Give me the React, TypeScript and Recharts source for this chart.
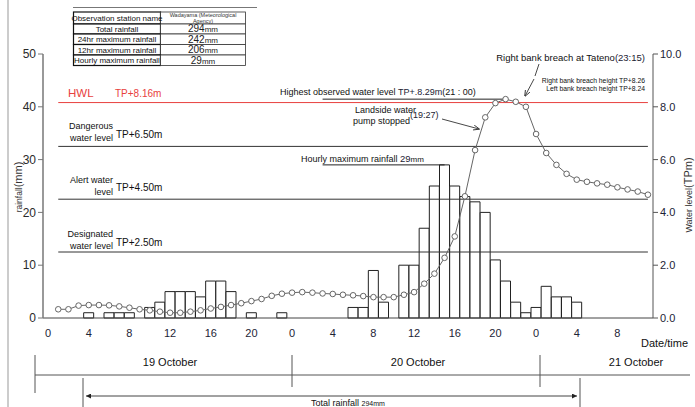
import { ComposedChart, Bar, Line, XAxis, YAxis, ReferenceLine } from "recharts"

// hours since 0:00 on 19 October
const hours = [
  0, 1, 2, 3, 4, 5, 6, 7, 8, 9, 10, 11, 12, 13, 14, 15, 16, 17, 18, 19, 20, 21, 22, 23,
  24, 25, 26, 27, 28, 29, 30, 31, 32, 33, 34, 35, 36, 37, 38, 39, 40, 41, 42, 43, 44, 45, 46, 47,
  48, 49, 50, 51, 52, 53, 54, 55, 56, 57, 58, 59
]

// hourly rainfall (mm)
const rainfall = [
  0, 0, 0, 0, 1, 0, 1, 1, 1, 0, 2, 3, 5, 5, 5, 4, 7, 7, 5, 0, 1, 0, 0, 1,
  0, 0, 0, 0, 0, 0, 2, 2, 9, 3, 0, 10, 10, 17, 25, 29, 25, 23, 22, 20, 11, 7, 3, 1,
  2, 6, 4, 4, 3, 0, 0, 0, 0, 0, 0, 0
]

// water level (TP m)
const waterLevel = [
  null, 0.33, 0.33, 0.47, 0.49, 0.49, 0.48, 0.44, 0.39, 0.33, 0.29, 0.24, 0.2, 0.2, 0.24, 0.29,
  0.36, 0.42, 0.49, 0.56, 0.64, 0.72, 0.84, 0.92, 0.96, 0.98, 0.96, 0.93, 0.91, 0.88, 0.86, 0.83,
  0.79, 0.79, 0.79, 0.88, 0.98, 1.3, 1.68, 2.28, 3.09, 4.61, 6.36, 7.6, 8.14, 8.29, 8.19, 8.0,
  6.97, 6.25, 5.8, 5.46, 5.24, 5.16, 5.1, 5.05, 4.95, 4.87, 4.79, 4.67
]

const levelLines = [
  { key: "hwl", value: 8.16, color: "#e8413e" },
  { key: "danger", value: 6.5, color: "#333" },
  { key: "alert", value: 4.5, color: "#333" },
  { key: "designated", value: 2.5, color: "#333" }
]

const summaryRows = [
  { label: "Total rainfall", value: "294" },
  { label: "24hr maximum rainfall", value: "242" },
  { label: "12hr maximum rainfall", value: "206" },
  { label: "Hourly maximum rainfall", value: "29" }
]

const days = ["19 October", "20 October", "21 October"]

const W = 695
const H = 407
const FONT = "'Liberation Sans', Arial, sans-serif"

function Overlay() {
  const rowY = [24, 34, 44.5, 55, 65.5]
  return (
    <svg
      width={W}
      height={H}
      style={{ position: "absolute", left: 0, top: 0, pointerEvents: "none" }}
      fontFamily={FONT}
    >
      <defs>
        <marker id="arr" viewBox="0 0 10 10" refX="9" refY="5" markerWidth="7" markerHeight="7" orient="auto">
          <path d="M0,1 L10,5 L0,9" fill="none" stroke="#333" strokeWidth="1.4" />
        </marker>
        <marker id="tri" viewBox="0 0 10 10" refX="10" refY="5" markerWidth="5" markerHeight="5" orient="auto-start-reverse">
          <path d="M0,0 L10,5 L0,10 z" fill="#222" />
        </marker>
      </defs>

      {/* frame */}
      <line x1={8} y1={0} x2={8} y2={H} stroke="#999" />
      <line x1={73} y1={7.5} x2={257} y2={7.5} stroke="#777" />

      {/* summary table */}
      <rect x={73.5} y={12} width={87} height={12} fill="#fff" stroke="#111" strokeWidth={1.2} />
      <rect x={160.5} y={12} width={85} height={12} fill="#fff" stroke="#333" strokeWidth={0.8} />
      <text x={117} y={21} fontSize={8} textAnchor="middle" fill="#111">Observation station name</text>
      <text x={203} y={17} fontSize={5.5} textAnchor="middle" fill="#333">Wadayama (Meteorological</text>
      <text x={203} y={22.5} fontSize={5.5} textAnchor="middle" fill="#333">Agency)</text>
      {summaryRows.map((r, i) => (
        <g key={r.label}>
          <rect x={73.5} y={rowY[i]} width={87} height={rowY[i + 1] - rowY[i]} fill="#fff" stroke="#111" strokeWidth={1.2} />
          <rect x={160.5} y={rowY[i]} width={85} height={rowY[i + 1] - rowY[i]} fill="#fff" stroke="#333" strokeWidth={0.8} />
          <text x={117} y={rowY[i + 1] - 2.5} fontSize={8} textAnchor="middle" fill="#111">{r.label}</text>
          <text x={203} y={rowY[i + 1] - 2} textAnchor="middle" fill="#222">
            <tspan fontSize={10}>{r.value}</tspan>
            <tspan fontSize={8}>mm</tspan>
          </text>
        </g>
      ))}

      {/* level labels */}
      <text x={68} y={97} fontSize={11.5} fill="#e8413e">HWL</text>
      <text x={115} y={97} fontSize={10} fill="#e8413e">TP+8.16m</text>

      <text x={113} y={129} fontSize={9} textAnchor="end" fill="#111">Dangerous</text>
      <text x={113} y={140.5} fontSize={9} textAnchor="end" fill="#111">water level</text>
      <text x={116} y={138} fontSize={10} fill="#111">TP+6.50m</text>

      <text x={113} y={183} fontSize={9} textAnchor="end" fill="#111">Alert water</text>
      <text x={113} y={194.5} fontSize={9} textAnchor="end" fill="#111">level</text>
      <text x={116} y={191} fontSize={10} fill="#111">TP+4.50m</text>

      <text x={113} y={237} fontSize={9} textAnchor="end" fill="#111">Designated</text>
      <text x={113} y={248.5} fontSize={9} textAnchor="end" fill="#111">water level</text>
      <text x={116} y={246} fontSize={10} fill="#111">TP+2.50m</text>

      {/* event annotations */}
      <text x={301} y={161.5} fontSize={9} fill="#111">
        Hourly maximum rainfall <tspan fontSize={9.5} fill="#223">29</tspan><tspan fontSize={8}>mm</tspan>
      </text>

      <text x={280} y={95} fontSize={9} fill="#111">
        Highest observed water level  <tspan fill="#223">TP+.8.29m</tspan><tspan fontSize={9}>(21 : 00)</tspan>
      </text>

      <text x={416} y={112.5} fontSize={9} textAnchor="end" fill="#111">Landside water</text>
      <text x={410} y={124} fontSize={9} textAnchor="end" fill="#111">pump stopped</text>
      <text x={410} y={118} fontSize={9} fill="#223">(19:27)</text>
      <line x1={442} y1={119} x2={479} y2={129} stroke="#333" strokeWidth={0.9} markerEnd="url(#arr)" />

      <text x={645} y={61} fontSize={9.5} textAnchor="end" fill="#111">
        Right bank breach at Tateno<tspan fill="#223">(23:15)</tspan>
      </text>
      <line x1={539} y1={64} x2={535} y2={76} stroke="#333" strokeWidth={0.9} />
      <text x={645} y={82.5} fontSize={6.8} textAnchor="end" fill="#111">Right bank breach height TP+8.26</text>
      <text x={645} y={91} fontSize={6.8} textAnchor="end" fill="#111">Left bank breach height TP+8.24</text>
      <line x1={534} y1={79} x2={525} y2={96} stroke="#333" strokeWidth={0.9} markerEnd="url(#arr)" />

      {/* axis titles */}
      <text transform="translate(22,187) rotate(-90)" textAnchor="middle" fill="#333">
        <tspan fontSize={8.5}>rainfall</tspan><tspan fontSize={11}>(mm)</tspan>
      </text>
      <text transform="translate(692,195) rotate(-90)" textAnchor="middle" fill="#333">
        <tspan fontSize={9}>Water  level</tspan><tspan fontSize={11}>(TPm)</tspan>
      </text>
      <text x={641} y={347} fontSize={11} fill="#111">Date/time</text>

      {/* date band */}
      <line x1={35} y1={375} x2={690} y2={375} stroke="#555" />
      <line x1={35} y1={355} x2={35} y2={393} stroke="#555" />
      <line x1={292} y1={355} x2={292} y2={387} stroke="#555" />
      <line x1={540} y1={355} x2={540} y2={387} stroke="#555" />
      <text x={170} y={366} fontSize={11} textAnchor="middle" fill="#111">{days[0]}</text>
      <text x={418} y={366} fontSize={11} textAnchor="middle" fill="#111">{days[1]}</text>
      <text x={636} y={366} fontSize={11} textAnchor="middle" fill="#111">{days[2]}</text>

      <line x1={83} y1={378} x2={83} y2={H} stroke="#555" />
      <line x1={580} y1={378} x2={580} y2={H} stroke="#555" />
      <line x1={86} y1={396} x2={577} y2={396} stroke="#444" markerStart="url(#tri)" markerEnd="url(#tri)" />
      <text x={311} y={405.5} fontSize={9} fill="#111">
        Total rainfall <tspan fontSize={7}>294mm</tspan>
      </text>
    </svg>
  )
}

export default function App() {
  const data = hours.map((h, i) => ({ hour: h, rain: rainfall[i], level: waterLevel[i] }))

  return (
    <div
      style={{
        position: "absolute",
        left: 0,
        top: 0,
        width: W,
        height: H,
        background: "#fff",
        fontFamily: FONT,
        overflow: "hidden"
      }}
    >
      <ComposedChart
        width={W}
        height={H}
        data={data}
        margin={{ top: 54, right: 0, bottom: 59, left: 0 }}
        barCategoryGap={0}
        barGap={0}
      >
        <XAxis
          dataKey="hour"
          interval={3}
          tickFormatter={(v) => String(Number(v) % 24)}
          tickLine={false}
          tickMargin={5}
          axisLine={{ stroke: "#444" }}
          tick={{ fontSize: 11, fill: "#1d2436" }}
          height={30}
        />
        <YAxis
          yAxisId="left"
          domain={[0, 50]}
          ticks={[0, 10, 20, 30, 40, 50]}
          width={43}
          axisLine={{ stroke: "#777", strokeWidth: 1.5 }}
          tickLine={{ stroke: "#777" }}
          tickSize={5}
          tick={{ fontSize: 12, fill: "#2a2a2a" }}
        />
        <YAxis
          yAxisId="right"
          orientation="right"
          domain={[0, 10]}
          ticks={[0, 2, 4, 6, 8, 10]}
          tickFormatter={(v) => Number(v).toFixed(1)}
          width={42}
          axisLine={{ stroke: "#555" }}
          tickLine={{ stroke: "#555" }}
          tickSize={5}
          tick={{ fontSize: 11, fill: "#1d2436" }}
        />
        {levelLines.map((l) => (
          <ReferenceLine
            key={l.key}
            yAxisId="right"
            segment={[
              { x: 1, y: l.value },
              { x: 59, y: l.value }
            ]}
            stroke={l.color}
            strokeWidth={1}
          />
        ))}
        <ReferenceLine
          yAxisId="right"
          segment={[
            { x: 27, y: 8.29 },
            { x: 45, y: 8.29 }
          ]}
          stroke="#222"
        />
        <ReferenceLine
          yAxisId="left"
          segment={[
            { x: 27, y: 29 },
            { x: 39, y: 29 }
          ]}
          stroke="#222"
        />
        <Bar
          yAxisId="left"
          dataKey="rain"
          fill="#fff"
          stroke="#222"
          strokeWidth={1}
          isAnimationActive={false}
        />
        <Line
          yAxisId="right"
          dataKey="level"
          stroke="#666"
          strokeWidth={1}
          dot={{ r: 2.8, fill: "#fff", stroke: "#666", strokeWidth: 1 }}
          isAnimationActive={false}
        />
      </ComposedChart>
      <Overlay />
    </div>
  )
}
